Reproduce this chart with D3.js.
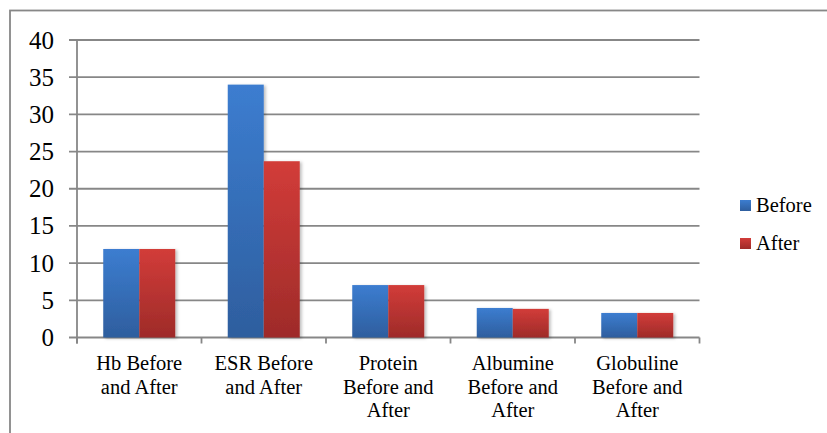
<!DOCTYPE html>
<html>
<head>
<meta charset="utf-8">
<script src="https://cdn.jsdelivr.net/npm/d3@7"></script>
<style>
  html, body { margin: 0; padding: 0; background: #fff; }
  svg { display: block; }
  #pre { position: absolute; left: -2000px; top: 0; font-family: serif; font-size: 20px; }
</style>
</head>
<body>
<div id="pre" style="font-family:'Liberation Serif',serif">Before After 0123456789</div>
<svg id="chart" width="827" height="433"></svg>
<script>
const categories = [
  ["Hb Before", "and After"],
  ["ESR Before", "and After"],
  ["Protein", "Before and", "After"],
  ["Albumine", "Before and", "After"],
  ["Globuline", "Before and", "After"]
];
const seriesNames = ["Before", "After"];
const beforeValues = [11.9, 34.0, 7.05, 3.97, 3.3];
const afterValues = [11.9, 23.7, 7.05, 3.85, 3.3];
const yTicks = [0, 5, 10, 15, 20, 25, 30, 35, 40];

const FONT = "serif";
const svg = d3.select("#chart");
const plot = { left: 77, right: 699.5, top: 40, bottom: 337.5 };

const defs = svg.append("defs");
function grad(id, top, bottom) {
  const g = defs.append("linearGradient").attr("id", id)
    .attr("x1", 0).attr("y1", 0).attr("x2", 0).attr("y2", 1);
  g.append("stop").attr("offset", "0%").attr("stop-color", top);
  g.append("stop").attr("offset", "100%").attr("stop-color", bottom);
}
grad("gBefore", "#3c7dd0", "#2e5e9e");
grad("gAfter", "#d23c39", "#9e2b29");
const f = defs.append("filter").attr("id", "shadow")
  .attr("x", "-20%").attr("y", "-10%").attr("width", "150%").attr("height", "130%");
f.append("feDropShadow").attr("dx", 2).attr("dy", 1).attr("stdDeviation", 1.5)
  .attr("flood-color", "#000").attr("flood-opacity", 0.25);

svg.append("rect").attr("x", 10).attr("y", 10.5).attr("width", 830).attr("height", 440)
  .attr("fill", "none").attr("stroke", "#878787").attr("stroke-width", 1.8);

const x0 = d3.scaleBand().domain(d3.range(categories.length))
  .range([plot.left, plot.right]).paddingInner(0).paddingOuter(0);
const x1 = d3.scaleBand().domain(seriesNames)
  .range([0, x0.bandwidth()]).paddingInner(0).paddingOuter(0.729);
const y = d3.scaleLinear().domain([0, 40]).range([plot.bottom, plot.top]);

const gridColor = "#878787";

svg.append("g").selectAll("line").data(yTicks).join("line")
  .attr("x1", plot.left - 8).attr("x2", plot.right)
  .attr("y1", d => y(d)).attr("y2", d => y(d))
  .attr("stroke", gridColor).attr("stroke-width", 1.8);

svg.append("line").attr("x1", plot.left).attr("x2", plot.left)
  .attr("y1", plot.top).attr("y2", plot.bottom + 6)
  .attr("stroke", gridColor).attr("stroke-width", 1.8);

const catTicks = d3.range(categories.length + 1).map(i => i === categories.length ? plot.right : x0(i));
svg.append("g").selectAll("line").data(catTicks).join("line")
  .attr("x1", d => d).attr("x2", d => d)
  .attr("y1", plot.bottom).attr("y2", plot.bottom + 6)
  .attr("stroke", gridColor).attr("stroke-width", 1.8);

svg.append("g").selectAll("text").data(yTicks).join("text")
  .attr("font-family", FONT).attr("font-size", 25).attr("fill", "#000")
  .attr("x", 54).attr("y", d => y(d) + 8.5)
  .attr("text-anchor", "end")
  .text(d => d);

const data = categories.map((c, i) => ({ i, vals: [
  { s: "Before", v: beforeValues[i] }, { s: "After", v: afterValues[i] }] }));
const groups = svg.append("g").selectAll("g").data(data).join("g")
  .attr("transform", d => `translate(${x0(d.i)},0)`);
groups.selectAll("rect").data(d => d.vals).join("rect")
  .attr("x", d => x1(d.s)).attr("width", x1.bandwidth())
  .attr("y", d => y(d.v)).attr("height", d => y(0) - y(d.v))
  .attr("fill", d => d.s === "Before" ? "url(#gBefore)" : "url(#gAfter)")
  .attr("filter", "url(#shadow)");

const cl = svg.append("g").selectAll("text").data(categories).join("text")
  .attr("font-family", FONT).attr("font-size", 20.5).attr("fill", "#000")
  .attr("text-anchor", "middle")
  .attr("transform", (d, i) => `translate(${x0(i) + x0.bandwidth() / 2},370)`);
cl.selectAll("tspan").data(d => d).join("tspan")
  .attr("x", 0).attr("dy", (d, j) => j === 0 ? 0 : 23.5).text(d => d);

const leg = svg.append("g").selectAll("g").data(seriesNames).join("g")
  .attr("transform", (d, i) => `translate(740,${200 + i * 38})`);
leg.append("rect").attr("width", 11).attr("height", 11)
  .attr("fill", d => d === "Before" ? "url(#gBefore)" : "url(#gAfter)");
leg.append("text")
  .attr("font-family", FONT).attr("font-size", 20.5).attr("fill", "#000")
  .attr("x", 16).attr("y", 11.5).text(d => d);
</script>
</body>
</html>
